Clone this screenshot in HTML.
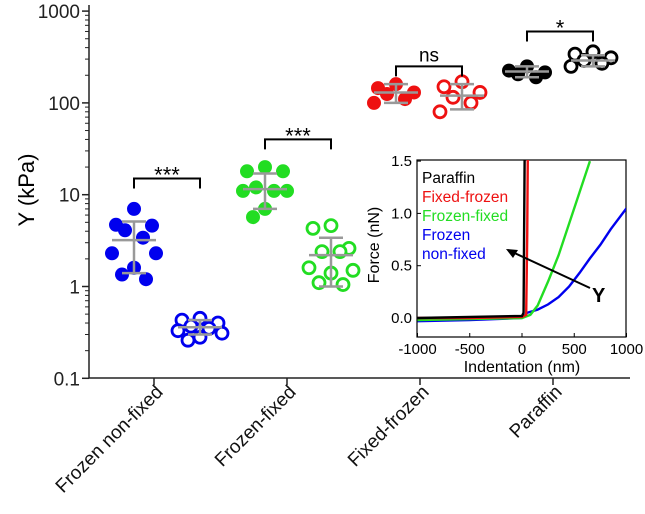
<!DOCTYPE html>
<html><head><meta charset="utf-8"><style>
body{margin:0;background:#fff;}
svg{display:block;font-family:"Liberation Sans",Arial,sans-serif;}
</style></head><body>
<svg id="c" width="645" height="514"></svg>
<script>
const categories=["Frozen non-fixed","Frozen-fixed","Fixed-frozen","Paraffin"];
const filledVals=[[7.0,4.7,4.6,4.1,3.4,2.3,2.3,1.6,1.35,1.2],[20,18,18,12,11,11,11,7,5.7],[160,145,130,125,110,100],[250,225,215,205,190]];
const openVals=[[0.45,0.43,0.40,0.37,0.35,0.33,0.31,0.28,0.26],[4.6,4.3,2.6,2.4,2.4,1.6,1.5,1.4,1.1,1.05],[170,150,130,115,100,80],[360,340,310,290,270,250]];
const means=[[3.2,1.4,5.1,0.36,0.30,0.43],[11.5,7,17,2.2,1.0,3.4],[130,100,160,120,85,160],[220,190,250,290,250,330]];
const colors=["#0000ee","#22dd22","#ee1111","#000000"];
const yTicks=[0.1,1,10,100,1000];
const yTickLabels=["0.1","1","10","100","1000"];
const sigLabels=["***","***","ns","*"];
const sigY=[15,40,250,600];
// inset
const insetXTicks=[-1000,-500,0,500,1000];
const insetYTicks=[0,0.5,1.0,1.5];
const insetYLabels=["0.0","0.5","1.0","1.5"];
const legendNames=["Paraffin","Fixed-frozen","Frozen-fixed","Frozen","non-fixed"];
const curveBlackX=[-1000,-500,0,15,20,25,30];const curveBlackY=[0.0,0.01,0.02,0.05,0.8,1.5,1.6];
const curveRedX=[-1000,-500,0,40,50,55,60];const curveRedY=[0.0,0.0,0.01,0.03,0.8,1.5,1.6];
const curveGreenX=[-1000,-500,0,80,150,250,350,450,550,650];const curveGreenY=[-0.02,-0.01,0.0,0.03,0.12,0.35,0.6,0.9,1.2,1.5];
const curveBlueX=[-1000,-500,0,50,150,250,350,450,550,650,750,850,1000];const curveBlueY=[-0.03,-0.02,0.0,0.05,0.08,0.13,0.2,0.3,0.43,0.57,0.7,0.85,1.05];

const svg=document.getElementById('c');const NS="http://www.w3.org/2000/svg";
function mk(t,a,p){const e=document.createElementNS(NS,t);for(const k in a)e.setAttribute(k,a[k]);(p||svg).appendChild(e);return e;}
const Y=v=>286.5-91.8*Math.log10(v);
const gx=i=>167+131*i;
const tx=i=>154+133*i;
const ax=mk('line',{x1:89,y1:5,x2:89,y2:378,stroke:'#222','stroke-width':1.5});

const bx=mk('line',{x1:89,y1:378,x2:630,y2:378,stroke:'#222','stroke-width':1.5});

yTicks.forEach((v,i)=>{
  mk('line',{x1:82,x2:89,y1:Y(v),y2:Y(v),stroke:'#222','stroke-width':1.5});
  const t=mk('text',{x:80,y:Y(v)+7,'text-anchor':'end','font-size':19,fill:'#222'});t.textContent=yTickLabels[i];
  
  if(i<yTicks.length-1)for(let m=2;m<10;m++){const yy=Y(v*m);mk('line',{x1:85,x2:89,y1:yy,y2:yy,stroke:'#222'});}
});
const yl=mk('text',{x:0,y:0,transform:'translate(34,190) rotate(-90)','text-anchor':'middle','font-size':22});yl.textContent="Y (kPa)";

categories.forEach((c,i)=>{
  mk('line',{x1:tx(i),x2:tx(i),y1:378,y2:385,stroke:'#222','stroke-width':1.5});
  const t=mk('text',{transform:`translate(${tx(i)+10},393) rotate(-45)`,'text-anchor':'end','font-size':19,fill:'#111'});t.textContent=c;
  
});
function jitter(n,k){const o=[0,-18,18,-9,9,-22,22,0,-12,12,0];return o[k%o.length];}
categories.forEach((c,i)=>{
  [[filledVals[i],-33,true],[openVals[i],33,false]].forEach(([vals,off,fill],s)=>{
    const cx=gx(i)+off;
    vals.forEach((v,k)=>{
      const p=mk('circle',{cx:cx+jitter(vals.length,k),cy:Y(v),r:fill?7:6,fill:fill?colors[i]:'#fff',stroke:colors[i],'stroke-width':fill?0:2.8});
      
    });
    const m=means[i].slice(s*3,s*3+3);
    const g='#999';
    mk('line',{x1:cx,x2:cx,y1:Y(m[1]),y2:Y(m[2]),stroke:g,'stroke-width':2.5});
    mk('line',{x1:cx-22,x2:cx+22,y1:Y(m[0]),y2:Y(m[0]),stroke:g,'stroke-width':2.5});
    mk('line',{x1:cx-12,x2:cx+12,y1:Y(m[1]),y2:Y(m[1]),stroke:g,'stroke-width':2.5});
    mk('line',{x1:cx-12,x2:cx+12,y1:Y(m[2]),y2:Y(m[2]),stroke:g,'stroke-width':2.5});
  });
  const by=Y(sigY[i]);
  const br=mk('path',{d:`M${gx(i)-33},${by+10}V${by}H${gx(i)+33}V${by+10}`,fill:'none',stroke:'#000','stroke-width':2});
  
  const st=mk('text',{x:gx(i),y:by-(sigLabels[i]=='ns'?5:-4),'text-anchor':'middle','font-size':sigLabels[i]=='ns'?19:22});st.textContent=sigLabels[i];
  
});
const IX=v=>522+v*0.1045, IY=v=>318-v*104.6;
const ib=mk('rect',{x:417,y:160,width:209,height:177,fill:'#fff',stroke:'#000','stroke-width':1.2});

insetXTicks.forEach(v=>{mk('line',{x1:IX(v),x2:IX(v),y1:337,y2:333,stroke:'#000'});
  const t=mk('text',{x:IX(v),y:354,'text-anchor':'middle','font-size':15});t.textContent=v;
  });
insetYTicks.forEach((v,i)=>{mk('line',{x1:417,x2:421,y1:IY(v),y2:IY(v),stroke:'#000'});
  const t=mk('text',{x:412,y:IY(v)+5,'text-anchor':'end','font-size':15});t.textContent=insetYLabels[i];
  });
const ixl=mk('text',{x:522,y:372,'text-anchor':'middle','font-size':16});ixl.textContent="Indentation (nm)";

const iyl=mk('text',{transform:'translate(379,245) rotate(-90)','text-anchor':'middle','font-size':16});iyl.textContent="Force (nN)";

const cp=mk('clipPath',{id:'ic'});mk('rect',{x:417,y:160,width:209,height:177},cp);
const g=mk('g',{'clip-path':'url(#ic)'});
[[curveBlueX,curveBlueY,colors[0]],[curveGreenX,curveGreenY,colors[1]],[curveRedX,curveRedY,colors[2]],[curveBlackX,curveBlackY,colors[3]]].forEach(([xs,ys,c])=>{
  const p=mk('polyline',{points:xs.map((x,k)=>IX(x)+','+IY(ys[k])).join(' '),fill:'none',stroke:c,'stroke-width':2.4},g);
  
});
const lc=[colors[3],colors[2],colors[1],colors[0],colors[0]];
legendNames.forEach((n,i)=>{const t=mk('text',{x:422,y:183+i*19,'font-size':15.5,fill:lc[i]});t.textContent=n;
  });
const ar=mk('line',{x1:590,x2:508,y1:288,y2:250,stroke:'#000','stroke-width':2});

mk('path',{d:'M506,249 L518,250 L513,258 Z',fill:'#000'});
const yt=mk('text',{x:592,y:302,'font-size':20,'font-weight':'bold'});yt.textContent="Y";

</script>
</body></html>
